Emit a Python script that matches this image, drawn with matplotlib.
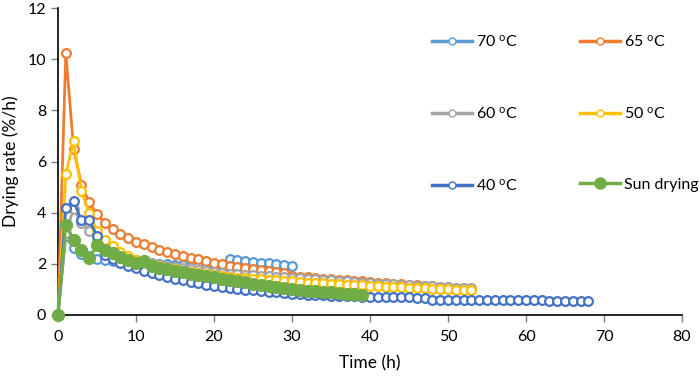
import matplotlib
matplotlib.use("Agg")
import matplotlib.pyplot as plt
from matplotlib.lines import Line2D

plt.rcParams['font.family'] = ['Lato', 'DejaVu Sans']
plt.rcParams['mathtext.fontset'] = 'custom'
plt.rcParams['mathtext.rm'] = 'Lato'
plt.rcParams['mathtext.it'] = 'Lato:italic'

# ---- data (hourly readings) ----
rate_70 = [0, 3.1, 2.6, 2.4, 2.3, 2.2, 2.15, 2.12, 2.08, 2.05, 2.03, 2.01, 2.0, 1.99, 1.98,
           1.97, 1.95, 1.93, 1.91, 1.9, 1.88, 1.87, 2.2, 2.15, 2.12, 2.08, 2.05, 2.02, 2.0,
           1.96, 1.92]
rate_65 = [0, 10.25, 6.5, 5.1, 4.4, 3.95, 3.6, 3.35, 3.15, 3.0, 2.87, 2.77, 2.65, 2.55, 2.45,
           2.38, 2.3, 2.23, 2.17, 2.1, 2.03, 1.98, 1.93, 1.88, 1.83, 1.79, 1.75, 1.71, 1.67,
           1.63, 1.53, 1.5, 1.47, 1.44, 1.42, 1.4, 1.37, 1.35, 1.33, 1.31, 1.29, 1.27, 1.25,
           1.23, 1.21, 1.19, 1.17, 1.15, 1.13, 1.11, 1.09, 1.07, 1.05, 1.03]
rate_60 = [0, 3.2, 4.15, 3.6, 3.3, 2.9, 2.6, 2.45, 2.35, 2.25, 2.15, 2.08, 2.02, 1.96, 1.91,
           1.86, 1.82, 1.78, 1.74, 1.71, 1.68, 1.65, 1.62, 1.6, 1.57, 1.55, 1.53, 1.51, 1.49,
           1.47, 1.45, 1.43, 1.41, 1.39, 1.37, 1.35, 1.33, 1.31, 1.29, 1.27, 1.25, 1.23, 1.21,
           1.2, 1.18, 1.16, 1.15, 1.13, 1.12, 1.1, 1.09, 1.07, 1.06, 1.04]
rate_50 = [0, 5.5, 6.8, 4.85, 4.0, 3.3, 2.93, 2.7, 2.48, 2.3, 2.15, 2.05, 1.97, 1.9, 1.84,
           1.78, 1.73, 1.68, 1.63, 1.59, 1.55, 1.52, 1.49, 1.46, 1.43, 1.41, 1.39, 1.37, 1.35,
           1.33, 1.31, 1.29, 1.27, 1.25, 1.24, 1.22, 1.2, 1.19, 1.17, 1.16, 1.14, 1.13, 1.11,
           1.1, 1.08, 1.07, 1.05, 1.04, 1.02, 1.01, 1.0, 0.98, 0.97, 0.96]
rate_40 = [0, 4.2, 4.45, 3.7, 3.7, 3.1, 2.35, 2.2, 2.05, 1.92, 1.82, 1.72, 1.63, 1.55, 1.48,
           1.41, 1.35, 1.29, 1.24, 1.19, 1.14, 1.1, 1.06, 1.02, 0.99, 0.96, 0.93, 0.9, 0.88,
           0.86, 0.84, 0.82, 0.8, 0.79, 0.77, 0.76, 0.75, 0.74, 0.73, 0.72, 0.71, 0.7, 0.7,
           0.69, 0.69, 0.69, 0.68, 0.68, 0.6, 0.6, 0.6, 0.59, 0.59, 0.59, 0.59, 0.58, 0.58,
           0.58, 0.58, 0.57, 0.57, 0.57, 0.57, 0.56, 0.56, 0.56, 0.56, 0.55, 0.55]
rate_sun = [0, 3.5, 2.93, 2.54, 2.22, 2.72, 2.55, 2.42, 2.28, 2.16, 2.04, 2.1, 1.9, 1.84,
            1.78, 1.73, 1.67, 1.62, 1.57, 1.52, 1.47, 1.42, 1.38, 1.33, 1.29, 1.22, 1.18,
            1.13, 1.09, 1.05, 1.01, 0.98, 0.95, 0.93, 0.9, 0.88, 0.86, 0.84, 0.82, 0.8]

labels = ["70 $^{\\mathrm{o}}$C", "65 $^{\\mathrm{o}}$C", "60 $^{\\mathrm{o}}$C",
          "50 $^{\\mathrm{o}}$C", "40 $^{\\mathrm{o}}$C", "Sun drying"]
colors = ["#5B9BD5", "#ED7D31", "#A5A5A5", "#FFC000", "#4472C4", "#70AD47"]
series = [rate_70, rate_65, rate_60, rate_50, rate_40, rate_sun]
x_ticks = [0, 10, 20, 30, 40, 50, 60, 70, 80]
y_ticks = [0, 2, 4, 6, 8, 10, 12]

fig = plt.figure(figsize=(7, 3.8), dpi=100)
ax = fig.add_axes([58/700, 65/380, 624/700, 307/380])

for i, (vals, col) in enumerate(zip(series, colors)):
    t = list(range(len(vals)))
    if i == 5:
        ax.plot(t, vals, color=col, lw=2.2, marker='o', ms=8.5, mfc=col, mec=col,
                clip_on=False, zorder=3 + i)
    else:
        ax.plot(t, vals, color=col, lw=2.0, marker='o', ms=6.3, mfc='white', mec=col,
                mew=1.6, clip_on=False, zorder=3 + i)

ax.set_xlim(0, 80)
ax.set_ylim(0, 12)
ax.set_xticks(x_ticks)
ax.set_yticks(y_ticks)
ax.tick_params(axis='both', labelsize=11.5, length=5, width=1, color='#7f7f7f',
               labelcolor='#000000', direction='out')
ax.tick_params(axis='x', pad=6)
for s in ['top', 'right']:
    ax.spines[s].set_visible(False)
for s in ['left', 'bottom']:
    ax.spines[s].set_color('#000000')
    ax.spines[s].set_linewidth(1.2)
ax.set_xlabel("Time (h)", fontsize=12.5, labelpad=8)
ax.set_ylabel("Drying rate (%/h)", fontsize=12.5, labelpad=6)

handles = []
for i, col in enumerate(colors):
    if i == 5:
        handles.append(Line2D([], [], color=col, lw=2.5, marker='o', ms=8, mfc=col, mec=col))
    else:
        handles.append(Line2D([], [], color=col, lw=2.5, marker='o', ms=5, mfc='white',
                              mec=col, mew=1))
# matplotlib fills legend columns first; reorder so rows read 70/65, 60/50, 40/Sun
order = [0, 2, 4, 1, 3, 5]
fig.legend([handles[k] for k in order], [labels[k] for k in order], ncol=2,
           loc='upper left', bbox_to_anchor=(432/700, 1 - 34/380),
           frameon=False, fontsize=11.5, handlelength=2.5, handletextpad=0.25,
           columnspacing=3.9, labelspacing=3.5, borderpad=0, borderaxespad=0)

fig.savefig("out.png", dpi=100)
